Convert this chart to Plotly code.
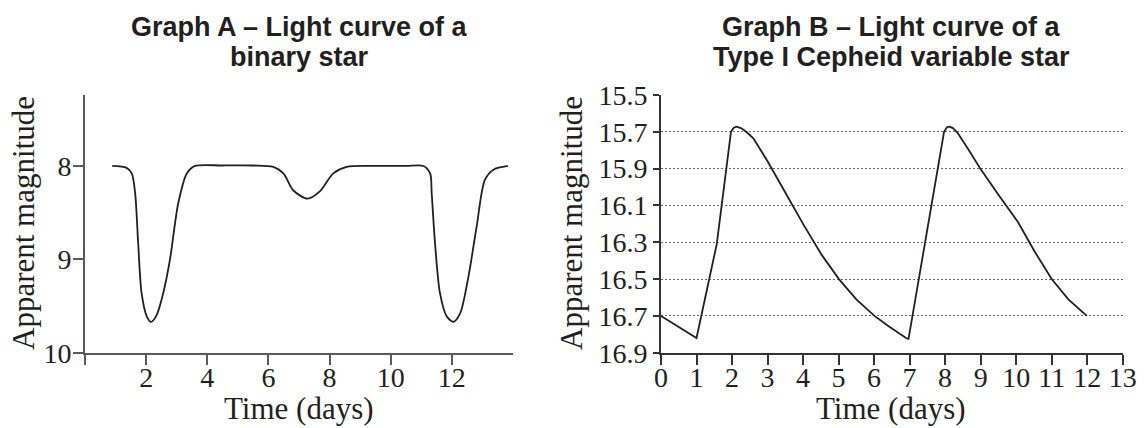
import plotly.graph_objects as go

# ---- Graph A: binary star light curve ----
a_time = [0.89, 1.36, 1.53, 1.64, 1.74, 1.85, 2.02, 2.16, 2.34, 2.56, 2.78, 3.05, 3.33, 3.6,
          4.5, 5.5, 6.16, 6.49, 6.81, 7.28, 7.69, 8.12, 8.56, 9.5, 10.5, 11.07, 11.29, 11.34,
          11.45, 11.61, 11.83, 12.05, 12.27, 12.54, 12.81, 13.08, 13.36, 13.83]
a_mag = [8.0, 8.02, 8.08, 8.29, 8.83, 9.36, 9.61, 9.67, 9.6, 9.36, 9.0, 8.4, 8.08, 8.0,
         7.995, 7.995, 8.01, 8.08, 8.26, 8.35, 8.27, 8.08, 8.01, 8.0, 8.0, 8.0, 8.08, 8.29,
         8.83, 9.36, 9.61, 9.67, 9.58, 9.19, 8.65, 8.15, 8.04, 8.0]
a_xticks = [0, 2, 4, 6, 8, 10, 12]
a_xticklabels = ["", "2", "4", "6", "8", "10", "12"]
a_yticks = [8, 9, 10]

# ---- Graph B: Type I Cepheid light curve ----
b_time = [0, 1.0, 1.57, 1.97, 2.05, 2.13, 2.25, 2.4, 2.6, 3.0, 3.5, 4.0, 4.53, 5.01, 5.5,
          6.01, 6.4, 6.73, 6.9, 6.97, 7.97, 8.05, 8.12, 8.22, 8.35, 8.67, 8.99, 9.51, 10.05,
          10.52, 11.0, 11.47, 11.99]
b_mag = [16.7, 16.82, 16.31, 15.7, 15.678, 15.672, 15.68, 15.7, 15.735, 15.86, 16.03, 16.2,
         16.37, 16.5, 16.61, 16.7, 16.755, 16.8, 16.82, 16.825, 15.7, 15.675, 15.672, 15.68,
         15.705, 15.8, 15.9, 16.045, 16.19, 16.35, 16.5, 16.61, 16.7]
b_xticks = list(range(0, 14))
b_yticks = [15.5, 15.7, 15.9, 16.1, 16.3, 16.5, 16.7, 16.9]
b_yticklabels = ["15.5", "15.7", "15.9", "16.1", "16.3", "16.5", "16.7", "16.9"]

W, H = 1148, 428
def fx(p): return p / W
def fy(p): return 1 - p / H

serif = "Liberation Serif, Times New Roman, serif"
sans = "Liberation Sans, Arial, sans-serif"
ink = "#231f20"

fig = go.Figure()
fig.add_trace(go.Scatter(x=a_time, y=a_mag, mode="lines",
                         line=dict(color=ink, width=1.8, shape="spline", smoothing=0.8),
                         xaxis="x", yaxis="y", showlegend=False, hoverinfo="skip"))
fig.add_trace(go.Scatter(x=b_time, y=b_mag, mode="lines",
                         line=dict(color=ink, width=1.8),
                         xaxis="x2", yaxis="y2", showlegend=False, hoverinfo="skip"))

tickfont = dict(family=serif, size=28, color=ink)
gA = "#5a5a5a"
gB = "#333333"

fig.update_layout(
    width=W, height=H,
    margin=dict(l=0, r=0, t=0, b=0, pad=0, autoexpand=False),
    paper_bgcolor="white", plot_bgcolor="white",
    xaxis=dict(domain=[fx(85), fx(513)], range=[0, 14], anchor="y", automargin=False,
               tickmode="array", tickvals=a_xticks, ticktext=a_xticklabels,
               showline=True, linecolor=gA, linewidth=1.6, showgrid=False, zeroline=False,
               ticks="outside", ticklen=10, tickwidth=1.5, tickcolor=gA, tickfont=tickfont,
               ticklabelstandoff=-11),
    yaxis=dict(domain=[fy(352.7), fy(95)], range=[10, 7.24], anchor="x", automargin=False,
               tickmode="array", tickvals=a_yticks,
               showline=True, linecolor=gA, linewidth=1.6, showgrid=False, zeroline=False,
               ticks="outside", ticklen=10, tickwidth=1.5, tickcolor=gA, tickfont=tickfont,
               ticklabelstandoff=-4),
    xaxis2=dict(domain=[fx(661), fx(1122.7)], range=[0, 13], anchor="y2", automargin=False,
                tickmode="array", tickvals=b_xticks,
                showline=True, linecolor=gB, linewidth=2, showgrid=False, zeroline=False,
                ticks="outside", ticklen=10, tickwidth=1.5, tickcolor=gB, tickfont=tickfont,
                ticklabelstandoff=-11),
    yaxis2=dict(domain=[fy(352.7), fy(95)], range=[16.9, 15.5], anchor="x2", automargin=False,
                tickmode="array", tickvals=b_yticks, ticktext=b_yticklabels,
                showline=True, linecolor=gB, linewidth=2, zeroline=False,
                showgrid=True, gridcolor="#666666", gridwidth=1, griddash="1.5px,2.5px",
                ticks="outside", ticklen=6, tickwidth=1.5, tickcolor=gB, tickfont=tickfont),
)

titlefont = dict(family=serif, size=31, color=ink)
headfont = dict(family=sans, size=27, color=ink)
heads = [
    ("<b>Graph A – Light curve of a</b>", 299, 27),
    ("<b>binary star</b>", 299, 57),
    ("<b>Graph B – Light curve of a</b>", 891, 27),
    ("<b>Type I Cepheid variable star</b>", 891, 57),
]
for txt, px, py in heads:
    fig.add_annotation(text=txt, xref="paper", yref="paper", x=fx(px), y=fy(py),
                       showarrow=False, font=headfont, xanchor="center", yanchor="middle")

fig.add_annotation(text="Time (days)", xref="paper", yref="paper", x=fx(299), y=fy(408),
                   showarrow=False, font=titlefont, xanchor="center", yanchor="middle")
fig.add_annotation(text="Time (days)", xref="paper", yref="paper", x=fx(891), y=fy(408),
                   showarrow=False, font=titlefont, xanchor="center", yanchor="middle")
fig.add_annotation(text="Apparent magnitude", xref="paper", yref="paper", x=fx(23), y=fy(223),
                   showarrow=False, font=titlefont, textangle=-90, xanchor="center", yanchor="middle")
fig.add_annotation(text="Apparent magnitude", xref="paper", yref="paper", x=fx(571), y=fy(223),
                   showarrow=False, font=titlefont, textangle=-90, xanchor="center", yanchor="middle")

fig.write_html("out.html", config={"displayModeBar": False},
               post_script="document.body.style.margin='0';document.body.style.overflow='hidden';")
